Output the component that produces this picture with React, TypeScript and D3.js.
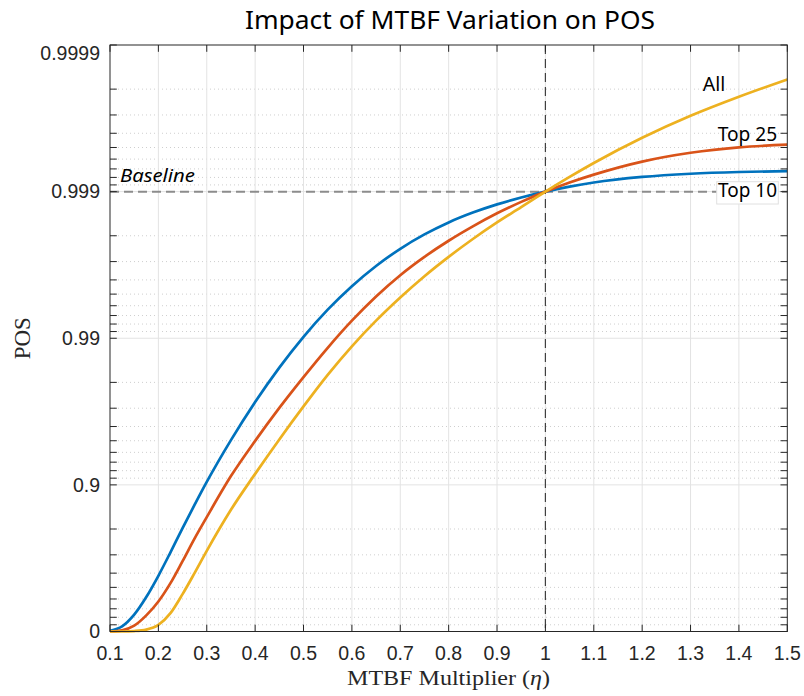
import React from "react";
import * as d3 from "d3";

// MTBF multiplier (eta)
const ETA = [0.1, 0.125, 0.15, 0.175, 0.2, 0.225, 0.25, 0.275, 0.3, 0.35, 0.4, 0.45, 0.5, 0.55, 0.6, 0.65, 0.7, 0.75, 0.8, 0.85, 0.9, 0.95, 1.0, 1.05, 1.1, 1.2, 1.3, 1.4, 1.5];

// POS expressed as "number of nines": POS = 1 - 10^(-nines)
const NINES_TOP10 = [0.004, 0.035, 0.115, 0.235, 0.38, 0.54, 0.705, 0.865, 1.02, 1.305, 1.565, 1.8, 2.01, 2.195, 2.355, 2.493, 2.61, 2.708, 2.79, 2.857, 2.913, 2.96, 3.0, 3.034, 3.062, 3.1, 3.122, 3.134, 3.14];
const NINES_TOP25 = [0.0, 0.008, 0.04, 0.11, 0.205, 0.33, 0.48, 0.635, 0.78, 1.06, 1.3, 1.525, 1.735, 1.935, 2.12, 2.285, 2.43, 2.555, 2.665, 2.763, 2.852, 2.93, 3.0, 3.062, 3.116, 3.205, 3.265, 3.302, 3.32];
const NINES_ALL = [0.0, 0.0, 0.003, 0.013, 0.045, 0.125, 0.255, 0.4, 0.55, 0.83, 1.075, 1.31, 1.535, 1.75, 1.945, 2.12, 2.278, 2.423, 2.555, 2.677, 2.79, 2.894, 3.0, 3.1, 3.195, 3.367, 3.517, 3.647, 3.765];

const SERIES_NAMES = ["Top 10", "Top 25", "All"];
const SERIES_COLORS = ["#0072BD", "#D95319", "#EDB120"];
const X_TICKS = [0.1, 0.2, 0.3, 0.4, 0.5, 0.6, 0.7, 0.8, 0.9, 1, 1.1, 1.2, 1.3, 1.4, 1.5];
const Y_TICK_FAIL = [1, 0.1, 0.01, 0.001, 0.0001];
const Y_TICK_LABELS = ["0", "0.9", "0.99", "0.999", "0.9999"];
const BASELINE_POS = 0.999;
const BASELINE_ETA = 1;

const W = 804, H = 696;
const L = 110, R = 787.3, T = 45, B = 631.5;

export default function App() {
  const x = d3.scaleLinear().domain([0.1, 1.5]).range([L, R]);
  // log scale on failure probability (1 - POS), reversed
  const y = d3.scaleLog().domain([1, 1e-4]).range([B, T]);
  const series = [NINES_TOP10, NINES_TOP25, NINES_ALL];

  const line = d3
    .line<[number, number]>()
    .x((d) => x(d[0]))
    .y((d) => y(Math.pow(10, -d[1])))
    .curve(d3.curveMonotoneX);

  const minor: number[] = [];
  for (let k = 0; k < 4; k++) {
    const base = Math.pow(10, -k - 1);
    for (let m = 2; m <= 9; m++) minor.push(+(m * base).toPrecision(6));
  }

  const sans = "'Noto Sans', 'Open Sans', sans-serif";
  const axisFont = "'Liberation Sans', Arial, sans-serif";
  const serif = "'Liberation Serif', 'DejaVu Serif', serif";
  const tick = 6.8;

  return (
    <svg width={W} height={H} style={{ position: "absolute", left: 0, top: 0, background: "#fff" }} xmlns="http://www.w3.org/2000/svg">
      <rect x={0} y={0} width={W} height={H} fill="#fff" />
      <defs>
        <clipPath id="plot">
          <rect x={L} y={T - 2} width={R - L} height={B - T + 4} />
        </clipPath>
      </defs>
      {/* minor horizontal grid */}
      {minor.map((f, i) => (
        <line key={"mg" + i} x1={L} x2={R} y1={y(f)} y2={y(f)} stroke="#cfcfcf" strokeWidth={1} strokeDasharray="1,3" />
      ))}
      {/* major vertical grid */}
      {X_TICKS.slice(1, -1).map((t) => (
        <line key={"vg" + t} x1={x(t)} x2={x(t)} y1={T} y2={B} stroke="#e3e3e3" strokeWidth={1} />
      ))}
      {/* major horizontal grid */}
      {Y_TICK_FAIL.slice(1, -1).map((f) => (
        <line key={"hg" + f} x1={L} x2={R} y1={y(f)} y2={y(f)} stroke="#e3e3e3" strokeWidth={1} />
      ))}
      {/* baseline dashed lines */}
      <line x1={L} x2={R} y1={y(1 - BASELINE_POS)} y2={y(1 - BASELINE_POS)} stroke="#8c8c8c" strokeWidth={2} strokeDasharray="9,5" />
      <line x1={x(BASELINE_ETA)} x2={x(BASELINE_ETA)} y1={T} y2={B} stroke="#404040" strokeWidth={1.2} strokeDasharray="9,5" />
      {/* curves */}
      <g clipPath="url(#plot)">
        {series.map((s, i) => (
          <path
            key={SERIES_NAMES[i]}
            d={line(ETA.map((e, j) => [e, s[j]] as [number, number])) || ""}
            fill="none"
            stroke={SERIES_COLORS[i]}
            strokeWidth={2.7}
            strokeLinejoin="round"
          />
        ))}
      </g>
      {/* axes box */}
      <rect x={L} y={T} width={R - L} height={B - T} fill="none" stroke="#262626" strokeWidth={1} />
      {/* x ticks */}
      {X_TICKS.map((t) => (
        <g key={"xt" + t}>
          <line x1={x(t)} x2={x(t)} y1={B} y2={B - tick} stroke="#262626" />
          <line x1={x(t)} x2={x(t)} y1={T} y2={T + tick} stroke="#262626" />
          <text x={x(t)} y={653.5} dy="0.35em" textAnchor="middle" fontFamily={axisFont} fontSize={19.5} fill="#262626">
            {String(t)}
          </text>
        </g>
      ))}
      {/* y ticks */}
      {Y_TICK_FAIL.map((f, i) => (
        <g key={"yt" + f}>
          <line x1={L} x2={L + tick} y1={y(f)} y2={y(f)} stroke="#262626" />
          <line x1={R} x2={R - tick} y1={y(f)} y2={y(f)} stroke="#262626" />
          <text x={100} y={y(f) + (i === Y_TICK_FAIL.length - 1 ? 8.5 : 0)} dy="0.35em" textAnchor="end" fontFamily={axisFont} fontSize={19.5} fill="#262626">
            {Y_TICK_LABELS[i]}
          </text>
        </g>
      ))}
      {minor.map((f, i) => (
        <g key={"ymt" + i}>
          <line x1={L} x2={L + tick} y1={y(f)} y2={y(f)} stroke="#262626" />
          <line x1={R} x2={R - tick} y1={y(f)} y2={y(f)} stroke="#262626" />
        </g>
      ))}
      {/* axis labels */}
      <text x={448.5} y={685} textAnchor="middle" fontFamily={serif} fontSize={22} fill="#262626" textLength={203} lengthAdjust="spacingAndGlyphs">
        MTBF Multiplier (<tspan fontStyle="italic">η</tspan>)
      </text>
      <text transform={`translate(30,${(T + B) / 2}) rotate(-90)`} textAnchor="middle" fontFamily={serif} fontSize={23} fill="#262626">
        POS
      </text>
      {/* title */}
      <text x={450} y={29.3} textAnchor="middle" fontFamily={sans} fontSize={25} fill="#000" textLength={410} lengthAdjust="spacingAndGlyphs">
        Impact of MTBF Variation on POS
      </text>
      {/* annotations */}
      <text x={120} y={181.7} fontFamily={sans} fontStyle="italic" fontSize={17.5} fill="#000" textLength={75} lengthAdjust="spacingAndGlyphs">
        Baseline
      </text>
      <text x={702.7} y={90.7} fontFamily={sans} fontSize={20} fill="#000" textLength={22.5} lengthAdjust="spacingAndGlyphs">
        All
      </text>
      <text x={717.7} y={141} fontFamily={sans} fontSize={19.5} fill="#000" textLength={59.6} lengthAdjust="spacingAndGlyphs">
        Top 25
      </text>
      <rect x={716.7} y={181.7} width={61.6} height={22.3} fill="#fff" stroke="#e0e0e0" strokeWidth={1} />
      <text x={718} y={197.3} fontFamily={sans} fontSize={19.5} fill="#000" textLength={59} lengthAdjust="spacingAndGlyphs">
        Top 10
      </text>
    </svg>
  );
}
